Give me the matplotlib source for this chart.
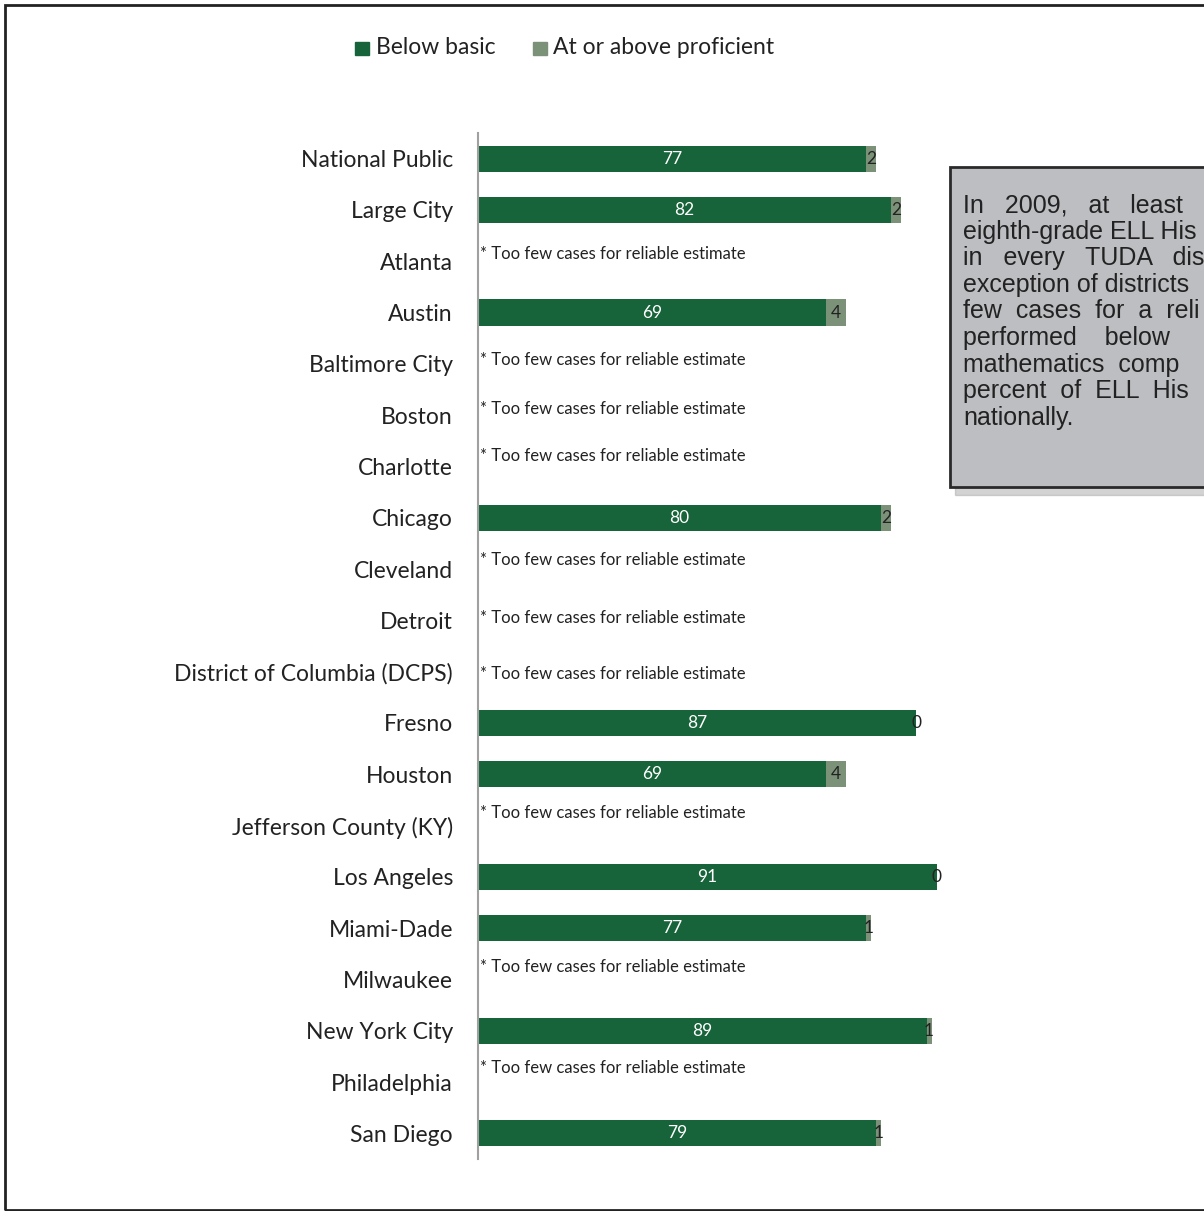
import numpy as np
import matplotlib
matplotlib.use("Agg")
import matplotlib.pyplot as plt
from matplotlib.patches import Rectangle

# data
districts = ["National Public", "Large City", "Atlanta", "Austin", "Baltimore City",
             "Boston", "Charlotte", "Chicago", "Cleveland", "Detroit",
             "District of Columbia (DCPS)", "Fresno", "Houston", "Jefferson County (KY)",
             "Los Angeles", "Miami-Dade", "Milwaukee", "New York City", "Philadelphia",
             "San Diego"]
below_basic = [77, 82, None, 69, None, None, None, 80, None, None,
               None, 87, 69, None, 91, 77, None, 89, None, 79]
proficient = [2, 2, None, 4, None, None, None, 2, None, None,
              None, 0, 4, None, 0, 1, None, 1, None, 1]
note_text = "* Too few cases for reliable estimate"
# callout text, as much of each line as is visible before the page edge
box_lines = ["In   2009,   at   least",
             "eighth-grade ELL His",
             "in   every   TUDA   dis",
             "exception of districts",
             "few  cases  for  a  reli",
             "performed    below",
             "mathematics  comp",
             "percent  of  ELL  His",
             "nationally."]

# layout only: vertical shift of the note text (in rows)
note_shift = [0, 0, -0.15, 0, -0.08, -0.12, -0.2, 0, -0.18, -0.04,
              0.04, 0, 0, -0.24, 0, 0, -0.25, 0, -0.27, 0]

dark = "#17633a"
light = "#7b9279"
W, H = 1204, 1211

fig = plt.figure(figsize=(W / 100, H / 100), dpi=100)
ax = fig.add_axes([478 / W, 1 - 1159 / H, 504 / W, (1159 - 133) / H])

lab_font = "Lato"
y = np.arange(len(districts))
for i, (b, p) in enumerate(zip(below_basic, proficient)):
    if b is None:
        ax.text(0.3, i + note_shift[i], note_text, fontsize=12, family=lab_font,
                color="#222222", va="center", ha="left")
        continue
    ax.barh(i, b, height=0.51, color=dark, edgecolor="none")
    ax.barh(i, p, left=b, height=0.51, color=light, edgecolor="none")
    ax.text(b / 2, i, str(b), color="white", fontsize=12.5, family=lab_font,
            ha="center", va="center")
    ax.text(b + max(p, 0.01) / 2, i, str(p), color="#222222", fontsize=12.5,
            family=lab_font, ha="center", va="center")

ax.set_xlim(0, 100)
ax.set_ylim(len(districts) - 0.5, -0.5)
ax.set_yticks(y)
ax.set_yticklabels(districts, fontsize=16.5, family=lab_font, color="#222222")
ax.tick_params(axis="y", length=0, pad=18)
ax.set_xticks([])
for s in ["top", "right", "bottom"]:
    ax.spines[s].set_visible(False)
ax.spines["left"].set_color("#a0a0a0")
ax.spines["left"].set_linewidth(1.5)

# legend
fig.patches.append(Rectangle((355 / W, 1 - 55 / H), 14 / W, 13 / H,
                             transform=fig.transFigure, color=dark))
fig.text(376 / W, 1 - 48 / H, "Below basic", fontsize=16.5, family=lab_font,
         color="#222222", va="center")
fig.patches.append(Rectangle((533 / W, 1 - 55 / H), 14 / W, 13 / H,
                             transform=fig.transFigure, color=light))
fig.text(553 / W, 1 - 48 / H, "At or above proficient", fontsize=16.5, family=lab_font,
         color="#222222", va="center")

# outer frame
fig.patches.append(Rectangle((5 / W, 1 - 1210 / H), 1.1, (1210 - 5) / H,
                             transform=fig.transFigure, fill=False,
                             edgecolor="#222222", linewidth=2))

# callout box with shadow
fig.patches.append(Rectangle((955 / W, 1 - 495 / H), 0.3, (495 - 175) / H,
                             transform=fig.transFigure, color="#a8a8a8",
                             alpha=0.5, zorder=4))
fig.patches.append(Rectangle((950 / W, 1 - 487 / H), 0.3, (487 - 167) / H,
                             transform=fig.transFigure, facecolor="#bdbec1",
                             edgecolor="#2a2a2a", linewidth=2, zorder=5))
for k, line in enumerate(box_lines):
    fig.text(963 / W, 1 - (205 + k * 26.6) / H, line, fontsize=18,
             family="Liberation Sans", color="#222222", va="center", zorder=6)

fig.savefig("out.png", dpi=100)
